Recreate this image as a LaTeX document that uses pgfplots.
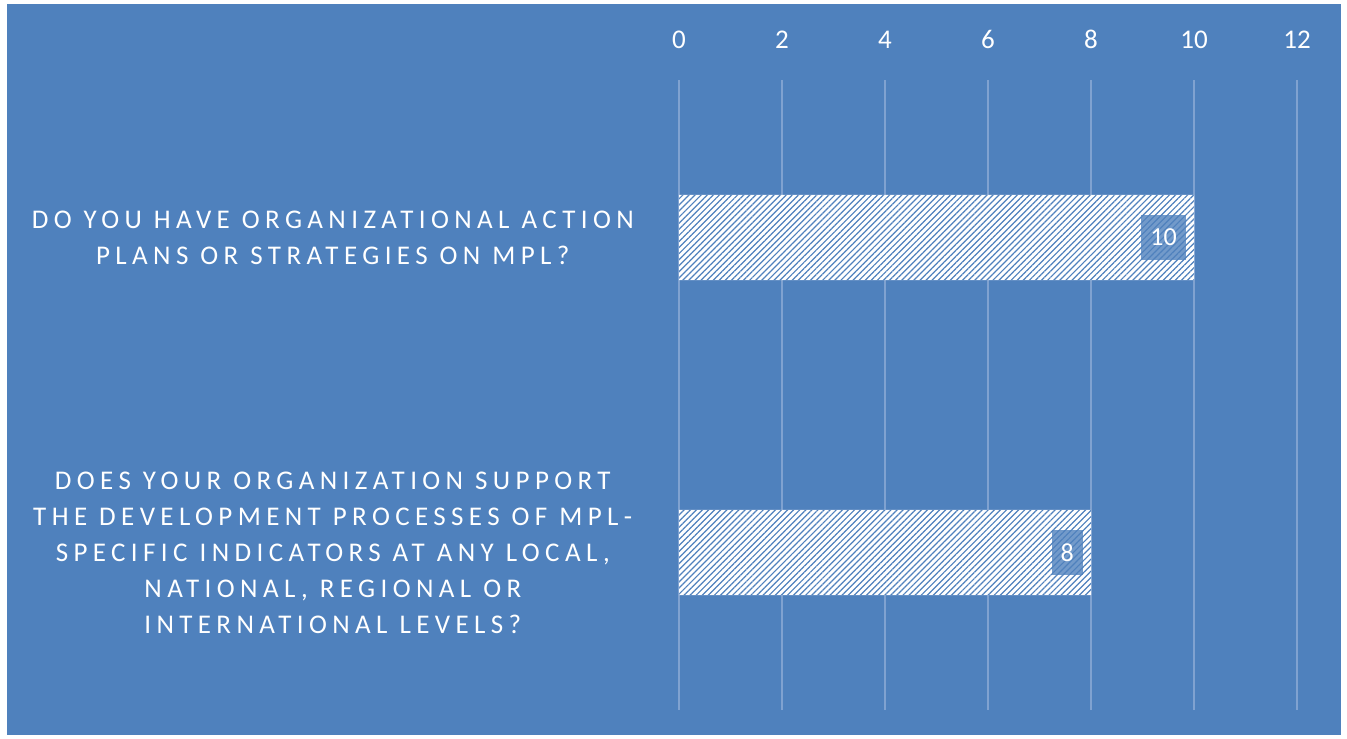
\documentclass[border=0pt]{standalone}
\usepackage{fontspec}
\setmainfont{Carlito}
\newfontfamily\catfont[LetterSpace=20]{Carlito}
\newcommand\W{\hspace{12bp}}
\usepackage{pgfplots}
\pgfplotsset{compat=1.18}
\usetikzlibrary{patterns.meta}
\definecolor{bgblue}{RGB}{79,129,189}
\definecolor{gridc}{RGB}{128,162,208}
\begin{document}
\begin{tikzpicture}[x=1bp,y=1bp]
\fill[white] (0,0) rectangle (1347,738);
\fill[bgblue] (7,3) rectangle (1341,734);
\begin{axis}[
  at={(679bp,28bp)}, anchor=south west,
  scale only axis, width=618bp, height=630bp,
  xbar, bar width=0.27,
  xmin=0, xmax=12, ymin=0.5, ymax=2.5,
  xtick={0,2,...,12}, ytick={1,2},
  xticklabel pos=top,
  axis line style={draw=none},
  major tick length=0pt,
  xmajorgrids, ymajorgrids=false,
  grid style={gridc, line width=1.5bp},
  /pgf/number format/assume math mode=true,
  xticklabel style={font=\fontsize{27bp}{30bp}\selectfont, text=white, inner sep=0pt, yshift=31bp},
  yticklabels={{DOES\W YOUR\W ORGANIZATION\W SUPPORT\\THE\W DEVELOPMENT\W PROCESSES\W OF\W MPL-\\SPECIFIC\W INDICATORS\W AT\W ANY\W LOCAL,\\NATIONAL,\W REGIONAL\W OR\\INTERNATIONAL\W LEVELS?},{DO\W YOU\W HAVE\W ORGANIZATIONAL\W ACTION\\PLANS\W OR\W STRATEGIES\W ON\W MPL?}},
  yticklabel style={font=\catfont\fontsize{27bp}{36bp}\selectfont, text=white, text width=640bp, align=center, inner sep=0pt, xshift=-26bp},
  nodes near coords,
  nodes near coords style={anchor=east, xshift=-8bp, font=\fontsize{26bp}{30bp}\selectfont, text=white, fill=bgblue, fill opacity=0.8, text opacity=1, inner xsep=9bp, inner ysep=0pt, minimum height=45bp},
]
\addplot[fill=white, draw=none, postaction={pattern={Lines[angle=45,distance=4.3bp,line width=1.2bp]}, pattern color=bgblue}]
  coordinates {(8,1) (10,2)};
\end{axis}
\pgfresetboundingbox
\useasboundingbox (0,0) rectangle (1347,738);
\end{tikzpicture}
\end{document}
